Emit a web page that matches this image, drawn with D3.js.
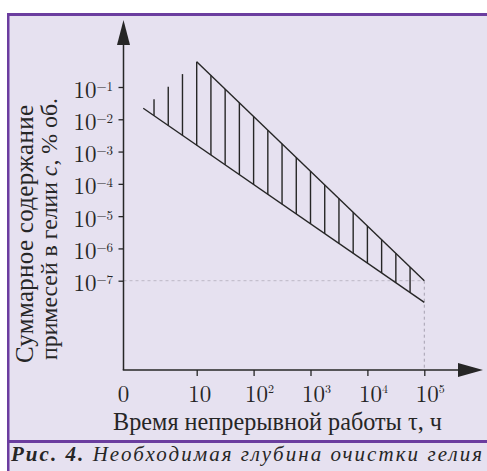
<!DOCTYPE html>
<html>
<head>
<meta charset="utf-8">
<script src="https://cdn.jsdelivr.net/npm/d3@7"></script>
<style>
  body { margin: 0; background: #fff; }
</style>
</head>
<body>
<div id="figure-container"></div>
<script>
// axis ticks
const xTicks = [10, 1e2, 1e3, 1e4, 1e5];
const xTickSup = ['', '2', '3', '4', '5'];
const yTicks = [1e-1, 1e-2, 1e-3, 1e-4, 1e-5, 1e-6, 1e-7];
const yTickSup = ['\u22121', '\u22122', '\u22123', '\u22124', '\u22125', '\u22126', '\u22127'];

// boundary lines of the band [t, c]
const topLine = [[10, 0.608], [1e5, 1e-7]];
const bottomLine = [[1.15, 0.0219], [1e5, 2.14e-8]];
const limitC = 1e-7;
const limitT = 1e5;

// hatching: log10(t), log10(c top), log10(c bottom)
const hatchLogT = [0.25, 0.5, 0.75, 1, 1.25, 1.5, 1.75, 2, 2.25, 2.5, 2.75, 3, 3.25, 3.5, 3.75, 4, 4.25, 4.5, 4.75];
const hatchLogTop = [-1.38, -0.99, -0.60, -0.216, -0.640, -1.064, -1.488, -1.912, -2.336, -2.760, -3.184, -3.608, -4.032, -4.456, -4.880, -5.304, -5.728, -6.152, -6.576];
const hatchLogBottom = [-1.890, -2.194, -2.498, -2.803, -3.107, -3.411, -3.716, -4.020, -4.324, -4.629, -4.933, -5.237, -5.541, -5.846, -6.150, -6.454, -6.759, -7.063, -7.367];

const W = 487, H = 471;
const lav = '#e6e1f0', purple = '#6b3d9f', ink = '#262626';
const numFont = '"Latin Modern Roman", "Liberation Serif", serif';
const txtFont = '"Liberation Serif", "Times New Roman", serif';

const x0 = 123.5, y0 = 370;   // axis origin ("0")
const xScale = d3.scaleLog().domain([1, 1e5]).range([139.8, 424.3]);
const yScale = d3.scaleLog().domain([1e-1, 1e-7]).range([87, 280.7]);

const svg = d3.select('#figure-container')
  .append('svg')
  .attr('width', W)
  .attr('height', H)
  .style('display', 'block');

// frame
svg.append('rect').attr('x', 7).attr('y', 13).attr('width', W).attr('height', H).attr('fill', lav);
svg.append('rect').attr('x', 7).attr('y', 13).attr('width', W).attr('height', 3).attr('fill', purple);
svg.append('rect').attr('x', 7).attr('y', 13).attr('width', 2.5).attr('height', H).attr('fill', purple);
svg.append('rect').attr('x', 7).attr('y', 440).attr('width', W).attr('height', 3).attr('fill', purple);

// guide lines to the 1e-7 / 1e5 limit
svg.append('line')
  .attr('x1', x0).attr('x2', xScale(limitT))
  .attr('y1', yScale(limitC)).attr('y2', yScale(limitC))
  .attr('stroke', '#bcb7c6').attr('stroke-width', 1).attr('stroke-dasharray', '3,3');
svg.append('line')
  .attr('x1', xScale(limitT)).attr('x2', xScale(limitT))
  .attr('y1', yScale(limitC)).attr('y2', y0)
  .attr('stroke', '#a6a1b1').attr('stroke-width', 1).attr('stroke-dasharray', '3,3');

// axes
const yAxis = d3.axisLeft(yScale).tickValues(yTicks).tickSize(5).tickSizeOuter(0).tickFormat('');
const xAxis = d3.axisBottom(xScale).tickValues(xTicks).tickSize(6).tickSizeOuter(0).tickFormat('');

const gy = svg.append('g').attr('transform', `translate(${x0},0)`).call(yAxis);
const gx = svg.append('g').attr('transform', `translate(0,${y0})`).call(xAxis);
[gx, gy].forEach(g => {
  g.select('.domain').remove();
  g.selectAll('.tick line').attr('stroke', ink).attr('stroke-width', 1.3);
});

gy.selectAll('.tick').each(function(d, i) {
  let t = d3.select(this).select('text')
    .attr('x', -10.5).attr('y', 10).attr('dy', null)
    .attr('text-anchor', 'end')
    .attr('fill', ink)
    .style('font-family', numFont).style('font-size', '23px');
  t.append('tspan').text('10');
  t.append('tspan').attr('dy', -7).style('font-size', '13px').text(yTickSup[i]);
});

gx.selectAll('.tick').each(function(d, i) {
  let t = d3.select(this).select('text')
    .attr('x', -9).attr('y', 32).attr('dy', null)
    .attr('text-anchor', 'start')
    .attr('fill', ink)
    .style('font-family', numFont).style('font-size', '23px');
  t.append('tspan').text('10');
  if (xTickSup[i]) t.append('tspan').attr('dy', -9).style('font-size', '12px').text(xTickSup[i]);
});

svg.append('text')
  .attr('x', x0).attr('y', 402)
  .attr('text-anchor', 'middle')
  .attr('fill', ink)
  .style('font-family', numFont).style('font-size', '23px')
  .text('0');

// axis lines + arrows
svg.append('line').attr('x1', x0).attr('x2', x0).attr('y1', y0).attr('y2', 40)
  .attr('stroke', ink).attr('stroke-width', 1.5);
svg.append('line').attr('x1', x0 - 0.75).attr('x2', 462).attr('y1', y0).attr('y2', y0)
  .attr('stroke', ink).attr('stroke-width', 1.5);
svg.append('path').attr('d', `M${x0},20L${x0 + 6.5},45L${x0 - 6.5},45Z`).attr('fill', ink);
svg.append('path').attr('d', `M483,${y0}L458,${y0 - 7}L458,${y0 + 7}Z`).attr('fill', ink);

// band
const line = d3.line().x(d => xScale(d[0])).y(d => yScale(d[1]));
const band = svg.append('g').attr('stroke', ink).attr('stroke-width', 1.4).attr('fill', 'none');
band.append('path').attr('d', line(topLine));
band.append('path').attr('d', line(bottomLine));
band.selectAll('.hatch')
  .data(hatchLogT)
  .enter()
  .append('line')
  .attr('class', 'hatch')
  .attr('x1', d => xScale(Math.pow(10, d)))
  .attr('x2', d => xScale(Math.pow(10, d)))
  .attr('y1', (d, i) => yScale(Math.pow(10, hatchLogTop[i])))
  .attr('y2', (d, i) => yScale(Math.pow(10, hatchLogBottom[i])));

// size a text so its length matches the reference
function fitText(t, target, size, maxSize) {
  t.style('font-size', size + 'px');
  let w = t.node().getComputedTextLength();
  let fs = Math.min(maxSize, size * target / w);
  t.style('font-size', fs + 'px');
  t.selectAll('tspan').style('font-size', null);
  w = t.node().getComputedTextLength();
  if (Math.abs(w - target) > 1) t.attr('textLength', target).attr('lengthAdjust', 'spacing');
  return t;
}

// axis titles
let xl = svg.append('text')
  .attr('x', 277.5).attr('y', 430)
  .attr('text-anchor', 'middle')
  .attr('fill', ink).style('font-family', txtFont)
  .text('Время непрерывной работы \u03c4, ч');
fitText(xl, 329, 22, 25);

let yl1 = svg.append('text')
  .attr('transform', 'translate(33,234) rotate(-90)')
  .attr('text-anchor', 'middle')
  .attr('fill', ink).style('font-family', txtFont)
  .text('Суммарное содержание');
fitText(yl1, 258, 22, 25);

let yl2 = svg.append('text')
  .attr('transform', 'translate(57,229) rotate(-90)')
  .attr('text-anchor', 'middle')
  .attr('fill', ink).style('font-family', txtFont);
yl2.append('tspan').text('примесей в гелии ');
yl2.append('tspan').style('font-style', 'italic').text('c');
yl2.append('tspan').text(', % об.');
fitText(yl2, 262, 22, 25);

// caption
let cap = svg.append('text')
  .attr('x', 11).attr('y', 461)
  .attr('fill', ink)
  .style('font-family', txtFont).style('font-style', 'italic');
cap.append('tspan').style('font-weight', 'bold').text('Рис. 4.');
cap.append('tspan').text(' Необходимая глубина очистки гелия');
fitText(cap, 471, 20, 21);
</script>
</body>
</html>
